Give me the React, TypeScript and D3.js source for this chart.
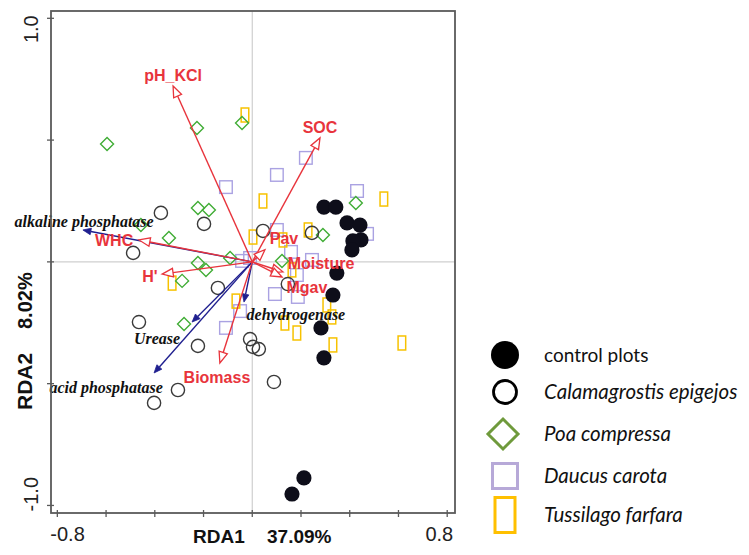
import React from 'react';
import * as d3 from 'd3';

const W = 749;
const H = 555;

// axis domains (RDA scores)
const xDomain: [number, number] = [-0.826, 0.832];
const yDomain: [number, number] = [-1.031, 1.03];
const xTicks = [-0.8, -0.6, -0.4, -0.2, 0, 0.2, 0.4, 0.6, 0.8];
const yTicks = [-1.0, -0.5, 0, 0.5, 1.0];
const xTickLabels = [
  { v: -0.8, t: '-0.8' },
  { v: 0.8, t: '0.8' },
];
const yTickLabels = [
  { v: 1.0, t: '1.0' },
  { v: -1.0, t: '-1.0' },
];

// sample scores
const controlPlots: [number, number][] = [
  [0.294, 0.225], [0.343, 0.225], [0.389, 0.16], [0.442, 0.151], [0.446, 0.09],
  [0.413, 0.086], [0.409, 0.049], [0.347, -0.046], [0.331, -0.136], [0.282, -0.271],
  [0.294, -0.394], [0.212, -0.887], [0.163, -0.953],
];
const calamagrostis: [number, number][] = [
  [-0.375, 0.201], [-0.198, 0.156], [-0.489, 0.037], [-0.141, -0.107], [-0.465, -0.247],
  [-0.223, -0.345], [-0.305, -0.526], [-0.403, -0.579], [0.044, 0.127], [0.245, 0.119],
  [0.146, -0.091], [-0.009, -0.317], [0.003, -0.349], [0.027, -0.358], [0.089, -0.493],
];
const poa: [number, number][] = [
  [-0.596, 0.484], [-0.227, 0.55], [-0.042, 0.57], [-0.223, 0.221], [-0.178, 0.213],
  [-0.457, 0.151], [-0.342, 0.098], [-0.091, 0.016], [-0.223, -0.005], [-0.19, -0.033],
  [-0.288, -0.078], [-0.28, -0.255], [0.425, 0.242], [0.29, 0.11], [0.122, 0.004],
];
const daucus: [number, number][] = [
  [0.22, 0.427], [0.101, 0.357], [-0.108, 0.307], [0.43, 0.291], [0.471, 0.115],
  [0.101, 0.131], [-0.042, 0.004], [-0.009, 0.016], [0.245, 0.008], [0.183, -0.054],
  [0.093, -0.132], [0.187, -0.144], [-0.05, -0.202], [-0.108, -0.271], [0.159, 0.041],
];
const tussilago: [number, number][] = [
  [-0.03, 0.603], [0.044, 0.25], [0.54, 0.258], [0.229, 0.131], [0.003, 0.102],
  [0.126, 0.09], [0.163, -0.033], [-0.329, -0.087], [-0.067, -0.161], [0.306, -0.177],
  [0.327, -0.226], [0.134, -0.251], [0.183, -0.292], [0.331, -0.341], [0.614, -0.333],
];

// environmental vectors (red)
const envNames = ['pH_KCl', 'SOC', 'WHC', "H'", 'Biomass', 'Moisture', 'Mgav', 'Pav'];
const envTips: [number, number][] = [
  [-0.325, 0.722], [0.278, 0.509], [-0.465, 0.09], [-0.37, -0.05],
  [-0.133, -0.415], [0.126, -0.041], [0.122, -0.062], [0.052, 0.05],
];
const envLabels: [number, number][] = [
  [-0.325, 0.767], [0.278, 0.554], [-0.567, 0.09], [-0.42, -0.058],
  [-0.145, -0.472], [0.282, -0.005], [0.224, -0.103], [0.13, 0.098],
];

// enzyme vectors (blue)
const enzNames = ['alkaline phosphatase', 'Urease', 'acid phosphatase', 'dehydrogenase'];
const enzTips: [number, number][] = [
  [-0.695, 0.131], [-0.247, -0.247], [-0.403, -0.456], [-0.034, -0.165],
];
const enzLabels: [number, number][] = [
  [-0.69, 0.168], [-0.391, -0.316], [-0.6, -0.514], [0.179, -0.214],
];

const legendItems = [
  { label: 'control plots', italic: false },
  { label: 'Calamagrostis epigejos', italic: true },
  { label: 'Poa compressa', italic: true },
  { label: 'Daucus carota', italic: true },
  { label: 'Tussilago farfara', italic: true },
];

const RED = '#e8343c';
const BLUE = '#1f1f8f';
const GREEN = '#41ad36';
const PURPLE = '#aaa2e2';
const YELLOW = '#f7c200';

const box = { left: 51, right: 455, top: 11, bottom: 513 };

export default function App() {
  const x = d3.scaleLinear().domain(xDomain).range([box.left, box.right]);
  const y = d3.scaleLinear().domain(yDomain).range([box.bottom, box.top]);
  const ox = x(0);
  const oy = y(0);

  const arrow = (tip: [number, number], headLen: number, headW: number) => {
    const tx = x(tip[0]);
    const ty = y(tip[1]);
    const dx = tx - ox;
    const dy = ty - oy;
    const len = Math.sqrt(dx * dx + dy * dy);
    const ux = dx / len;
    const uy = dy / len;
    const bx = tx - ux * headLen;
    const by = ty - uy * headLen;
    const px = -uy;
    const py = ux;
    const pts = `${tx},${ty} ${bx + px * headW},${by + py * headW} ${bx - px * headW},${by - py * headW}`;
    return { tx, ty, bx, by, pts };
  };

  const legendY = [355, 392, 434, 476, 515];
  const legendMarkX = 505;

  return (
    <svg width={W} height={H} style={{ position: 'absolute', left: 0, top: 0, background: '#fff' }}>
      <rect x={0} y={0} width={W} height={H} fill="#fff" />
      {/* zero lines */}
      <line x1={ox} x2={ox} y1={box.top} y2={box.bottom} stroke="#cfcfcf" strokeWidth={1.2} />
      <line x1={box.left} x2={box.right} y1={oy} y2={oy} stroke="#cfcfcf" strokeWidth={1.2} />

      {/* samples */}
      <g>
        {daucus.map((d, i) => (
          <rect key={'d' + i} x={x(d[0]) - 6.3} y={y(d[1]) - 6.3} width={12.6} height={12.6}
            fill="none" stroke={PURPLE} strokeWidth={1.4} />
        ))}
        {tussilago.map((d, i) => (
          <rect key={'t' + i} x={x(d[0]) - 3.8} y={y(d[1]) - 7} width={7.6} height={14}
            fill="none" stroke={YELLOW} strokeWidth={1.5} />
        ))}
        {poa.map((d, i) => {
          const cx = x(d[0]);
          const cy = y(d[1]);
          const r = 6.5;
          return (
            <polygon key={'p' + i} points={`${cx},${cy - r} ${cx + r},${cy} ${cx},${cy + r} ${cx - r},${cy}`}
              fill="none" stroke={GREEN} strokeWidth={1.4} />
          );
        })}
        {calamagrostis.map((d, i) => (
          <circle key={'c' + i} cx={x(d[0])} cy={y(d[1])} r={6.6} fill="none" stroke="#3a3a3a" strokeWidth={1.4} />
        ))}
        {controlPlots.map((d, i) => (
          <circle key={'k' + i} cx={x(d[0])} cy={y(d[1])} r={7.6} fill="#0e0e1a" />
        ))}
      </g>

      {/* enzyme vectors */}
      <g>
        {enzTips.map((t, i) => {
          const a = arrow(t, 8, 3.3);
          return (
            <g key={'e' + i}>
              <line x1={ox} y1={oy} x2={a.bx} y2={a.by} stroke={BLUE} strokeWidth={1.4} />
              <polygon points={a.pts} fill={BLUE} stroke={BLUE} strokeWidth={0.8} />
            </g>
          );
        })}
      </g>
      {/* environmental vectors */}
      <g>
        {envTips.map((t, i) => {
          const a = arrow(t, 11, 4.3);
          return (
            <g key={'v' + i}>
              <line x1={ox} y1={oy} x2={a.bx} y2={a.by} stroke={RED} strokeWidth={1.4} />
              <polygon points={a.pts} fill="#fff" stroke={RED} strokeWidth={1.3} />
            </g>
          );
        })}
      </g>

      {/* vector labels */}
      {enzNames.map((n, i) => (
        <text key={'el' + i} x={x(enzLabels[i][0])} y={y(enzLabels[i][1])} dy="0.35em" textAnchor="middle"
          fontFamily="'Liberation Serif', 'DejaVu Serif', serif" fontStyle="italic" fontWeight="bold"
          fontSize={16} fill="#111">{n}</text>
      ))}
      {envNames.map((n, i) => (
        <text key={'vl' + i} x={x(envLabels[i][0])} y={y(envLabels[i][1])} dy="0.36em" textAnchor="middle"
          fontFamily="'Liberation Sans', Arial, sans-serif" fontWeight="bold" fontSize={16} fill={RED}>{n}</text>
      ))}

      {/* frame */}
      <rect x={box.left} y={box.top} width={box.right - box.left} height={box.bottom - box.top}
        fill="none" stroke="#5a5a5a" strokeWidth={1.8} />
      {xTicks.map((t) => (
        <line key={'xt' + t} x1={x(t)} x2={x(t)} y1={box.bottom - 3} y2={box.bottom + 4} stroke="#5a5a5a" strokeWidth={1.3} />
      ))}
      {yTicks.map((t) => (
        <line key={'yt' + t} x1={box.left - 4} x2={box.left + 3} y1={y(t)} y2={y(t)} stroke="#5a5a5a" strokeWidth={1.3} />
      ))}
      {xTickLabels.map((d, i) => (
        <text key={'xl' + i} x={x(d.v) + (i === 0 ? -7 : 6)} y={541} textAnchor={i === 0 ? 'start' : 'end'}
          fontFamily="'Liberation Sans', Arial, sans-serif" fontSize={20} fill="#222">{d.t}</text>
      ))}
      {yTickLabels.map((d, i) => (
        <text key={'yl' + i} transform={`translate(38,${y(d.v) + (i === 0 ? -3 : 6)}) rotate(-90)`}
          textAnchor={i === 0 ? 'end' : 'start'}
          fontFamily="'Liberation Sans', Arial, sans-serif" fontSize={20} fill="#222">{d.t}</text>
      ))}

      {/* axis titles */}
      <text x={193} y={543} fontFamily="'Liberation Sans', Arial, sans-serif" fontWeight="bold" fontSize={19} fill="#111">RDA1</text>
      <text x={267} y={543} fontFamily="'Liberation Sans', Arial, sans-serif" fontWeight="bold" fontSize={19} fill="#111">37.09%</text>
      <text transform="translate(32,410) rotate(-90)" fontFamily="'Liberation Sans', Arial, sans-serif" fontWeight="bold" fontSize={21} fill="#111">RDA2</text>
      <text transform="translate(32,329) rotate(-90)" fontFamily="'Liberation Sans', Arial, sans-serif" fontWeight="bold" fontSize={20} fill="#111">8.02%</text>

      {/* legend */}
      <g>
        <circle cx={legendMarkX} cy={legendY[0]} r={14} fill="#000" />
        <circle cx={legendMarkX} cy={legendY[1]} r={11.5} fill="none" stroke="#000" strokeWidth={2.8} />
        <polygon points={`${legendMarkX - 2},${legendY[2] - 15} ${legendMarkX + 13},${legendY[2]} ${legendMarkX - 2},${legendY[2] + 15} ${legendMarkX - 17},${legendY[2]}`}
          fill="none" stroke="#6f9a3c" strokeWidth={3} />
        <rect x={legendMarkX - 12.5} y={legendY[3] - 12.5} width={25} height={25} fill="none" stroke="#b7a9d8" strokeWidth={3} />
        <rect x={legendMarkX - 10} y={legendY[4] - 17.5} width={20} height={35} fill="none" stroke="#ffc000" strokeWidth={3} />
        {legendItems.map((d, i) => (
          <text key={'lg' + i} x={544} y={legendY[i]} dy="0.35em" fontFamily="Lato, 'Open Sans', sans-serif"
            fontStyle={d.italic ? 'italic' : 'normal'} fontSize={d.italic ? 20.5 : 19} fill="#111">{d.label}</text>
        ))}
      </g>
    </svg>
  );
}
